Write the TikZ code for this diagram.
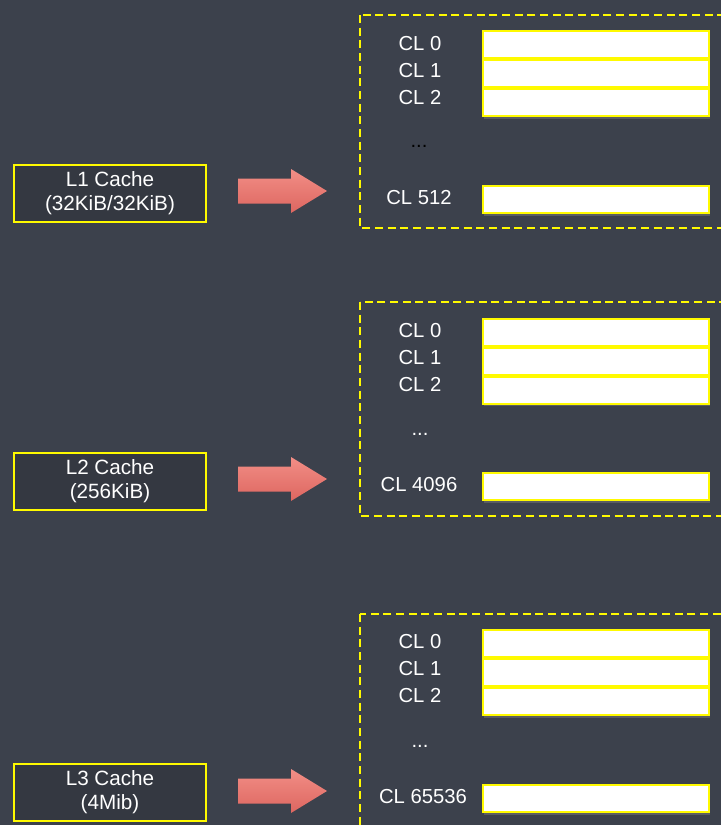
\documentclass[tikz,border=0pt]{standalone}
\usepackage{fontspec}
\setmainfont{Liberation Sans}
\usepackage{xcolor}
\usepackage{tikz}
\usetikzlibrary{positioning,calc,shadows}

\definecolor{board}{RGB}{60,65,76}
\definecolor{boxfill}{RGB}{52,56,65}
\definecolor{chalkyellow}{RGB}{255,250,0}
\definecolor{arrowtop}{RGB}{242,142,134}
\definecolor{arrowbot}{RGB}{221,102,96}

\tikzset{
  cachebox/.style={draw=chalkyellow, fill=boxfill, line width=1.5pt, align=center,
    text=white, font=\fontsize{15.5}{18.5}\selectfont,
    minimum width=192*0.75pt, minimum height=57*0.75pt, inner sep=0pt},
  cline/.style={draw=chalkyellow, fill=white, line width=1.5pt,
    minimum width=226*0.75pt, minimum height=27*0.75pt, inner sep=0pt,
    drop shadow={shadow xshift=1pt, shadow yshift=-2pt, opacity=0.45}},
  cllabel/.style={text=white!94, font=\fontsize{15.2}{18}\selectfont, inner sep=0pt},
  darkdots/.style={text=black, font=\fontsize{15.2}{18}\selectfont, inner sep=0pt},
  panel/.style={draw=chalkyellow, line width=1.1pt, dash pattern=on 6pt off 3.5pt},
  bigarrow/.style={top color=arrowtop, bottom color=arrowbot, draw=none}
}

\begin{document}
\begin{tikzpicture}[x=0.75pt, y=-0.75pt]
  \useasboundingbox (0,0) rectangle (721,825);
  \clip (0,0) rectangle (721,825);
  \fill[board] (-5,-5) rectangle (730,830); % chalkboard

  % L1 cache
  \node[cachebox] (l1) at (110,193) {L1 Cache\\(32KiB/32KiB)};
  \coordinate (a1) at (238,191);
  \shade[bigarrow] (a1) ++(0,-12.5) -- ++(53,0) -- ++(0,-9.5) -- ++(36,22)
    -- ++(-36,22) -- ++(0,-9.5) -- ++(-53,0) -- cycle;
  \draw[panel] (360,15) rectangle (735,228);
  \node[cline] (l1r0) at (596,44.5) {};
  \node[cline, below=0pt of l1r0] (l1r1) {};
  \node[cline, below=0pt of l1r1] (l1r2) {};
  \node[cline] (l1rn) at (596,199.5) {};
  \node[cllabel] (l1t0) at (420,44) {CL 0};
  \node[cllabel] (l1t1) at (420,71) {CL 1};
  \node[cllabel] (l1t2) at (420,98) {CL 2};
  \node[darkdots] (l1dots) at (419,146) {...};
  \node[cllabel] (l1tn) at (419,198) {CL 512};

  % L2 cache
  \node[cachebox] (l2) at (110,481) {L2 Cache\\(256KiB)};
  \coordinate (a2) at (238,479);
  \shade[bigarrow] (a2) ++(0,-12.5) -- ++(53,0) -- ++(0,-9.5) -- ++(36,22)
    -- ++(-36,22) -- ++(0,-9.5) -- ++(-53,0) -- cycle;
  \draw[panel] (360,302) rectangle (735,516);
  \node[cline] (l2r0) at (596,332) {};
  \node[cline, below=0pt of l2r0] (l2r1) {};
  \node[cline, below=0pt of l2r1] (l2r2) {};
  \node[cline] (l2rn) at (596,486.5) {};
  \node[cllabel] (l2t0) at (420,331) {CL 0};
  \node[cllabel] (l2t1) at (420,358) {CL 1};
  \node[cllabel] (l2t2) at (420,385) {CL 2};
  \node[cllabel] (l2dots) at (420,434) {...};
  \node[cllabel] (l2tn) at (419,485) {CL 4096};

  % L3 cache
  \node[cachebox] (l3) at (110,792) {L3 Cache\\(4Mib)};
  \coordinate (a3) at (238,791);
  \shade[bigarrow] (a3) ++(0,-12.5) -- ++(53,0) -- ++(0,-9.5) -- ++(36,22)
    -- ++(-36,22) -- ++(0,-9.5) -- ++(-53,0) -- cycle;
  \draw[panel] (360,614) rectangle (735,850);
  \node[cline] (l3r0) at (596,643.5) {};
  \node[cline, below=0pt of l3r0] (l3r1) {};
  \node[cline, below=0pt of l3r1] (l3r2) {};
  \node[cline] (l3rn) at (596,798.5) {};
  \node[cllabel] (l3t0) at (420,642) {CL 0};
  \node[cllabel] (l3t1) at (420,669) {CL 1};
  \node[cllabel] (l3t2) at (420,696) {CL 2};
  \node[cllabel] (l3dots) at (420,746) {...};
  \node[cllabel] (l3tn) at (423,797) {CL 65536};
\end{tikzpicture}
\end{document}
